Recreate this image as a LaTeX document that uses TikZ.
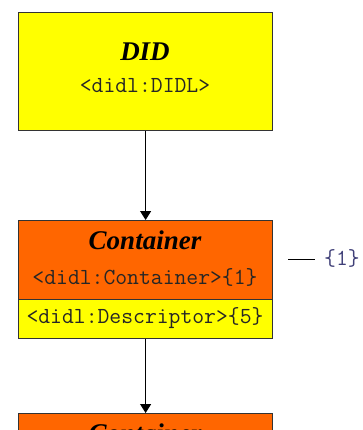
\documentclass[tikz,border=0pt]{standalone}
\usepackage{fontspec}
\setmainfont{Liberation Serif}
\usetikzlibrary{arrows.meta}
\definecolor{didyellow}{HTML}{FFFF00}
\definecolor{didorange}{HTML}{FF6600}
\definecolor{didedge}{HTML}{333333}
\definecolor{didnote}{HTML}{404078}
\tikzset{
  elembox/.style={draw=didedge, line width=1.2pt, inner sep=0pt, anchor=north west},
  elemtitle/.style={font=\fontsize{27}{30}\selectfont\bfseries\itshape},
  elemtag/.style={font=\fontsize{23}{25}\selectfont\ttfamily, text=black!85},
  link/.style={draw, line width=1pt, -{Triangle[width=11pt,length=9pt]}}
}
\begin{document}
\begin{tikzpicture}[x=1pt,y=-1pt]
\useasboundingbox (0,0) rectangle (362,430);
\clip (0,0) rectangle (362,430);
% DID
\node[elembox, fill=didyellow, minimum width=254pt, minimum height=118pt] (did) at (18,12) {};
\node[elemtitle] (didtitle) at (145,52) {DID};
\node[elemtag] (didtag) at (145,86) {<didl:DIDL>};
% first container
\node[elembox, fill=didorange, minimum width=254pt, minimum height=79pt] (cont1) at (18,220) {};
\node[elembox, fill=didyellow, minimum width=254pt, minimum height=39pt] (desc1) at (18,299) {};
\node[elemtitle] (cont1title) at (145,240) {Container};
\node[elemtag] (cont1tag) at (145,277) {<didl:Container>\{1\}};
\node[elemtag] (desc1tag) at (145,318) {<didl:Descriptor>\{5\}};
% second container
\node[elembox, fill=didorange, minimum width=254pt, minimum height=79pt] (cont2) at (18,413) {};
\node[elemtitle] (cont2title) at (145,433) {Container};
% note
\coordinate (notestart) at (288,259);
\node[elemtag, text=didnote, anchor=west, inner sep=0pt] (note1) at (324,258) {\{1\}};
\draw[line width=1pt] (notestart) -- ++(27,0);
% links
\path[link] (did.south) -- (cont1.north);
\path[link] (desc1.south) -- (cont2.north);
\end{tikzpicture}
\end{document}
